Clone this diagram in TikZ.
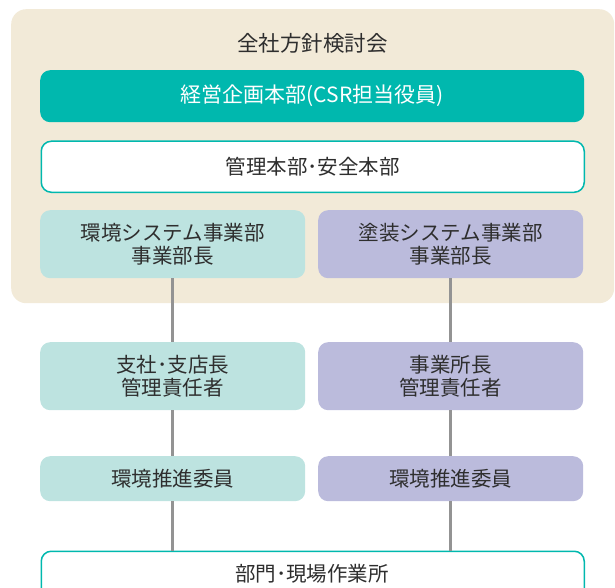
\documentclass[tikz,border=0pt]{standalone}
\usepackage{fontspec}
\setmainfont{Noto Sans CJK JP}
\definecolor{beige}{HTML}{F2EAD8}
\definecolor{teal}{HTML}{00B8AE}
\definecolor{lteal}{HTML}{BDE3E0}
\definecolor{lav}{HTML}{BBBBDC}
\definecolor{txt}{HTML}{2E2E2E}
\definecolor{conn}{HTML}{939393}
\begin{document}
\begin{tikzpicture}[x=1pt,y=-1pt,
  every node/.style={font=\fontsize{20.5}{22.5}\selectfont, text=txt, align=center, inner sep=0pt},
  box/.style={rectangle, rounded corners=10pt, anchor=north west},
  wide/.style={box, minimum width=544pt, minimum height=52pt},
  half/.style={box, minimum width=265pt},
  tealbox/.style={half, fill=lteal},
  lavbox/.style={half, fill=lav},
  conline/.style={draw=conn, line width=3pt}]
\useasboundingbox (0,0) rectangle (615,588);
\node[box, fill=beige, rounded corners=15pt, minimum width=603pt, minimum height=294pt] (bg) at (11,9) {};
\node[font=\fontsize{21.5}{24}\selectfont] (title) at (312.5,43) {全社方針検討会};
\node[wide, fill=teal, text=white, font=\fontsize{21}{24}\selectfont] (top) at (40,70) {経営企画本部(CSR担当役員)};
\node[wide, draw=teal, line width=1.5pt, fill=white, minimum width=543pt, minimum height=51pt] (admin) at (40.5,140.5) {管理本部･安全本部};
\node[tealbox, minimum height=68pt] (l1) at (40,210) {環境システム事業部\\事業部長};
\node[lavbox, minimum height=68pt] (r1) at (318,210) {塗装システム事業部\\事業部長};
\node[tealbox, minimum height=68pt] (l2) at (40,342) {支社･支店長\\管理責任者};
\node[lavbox, minimum height=68pt] (r2) at (318,342) {事業所長\\管理責任者};
\node[tealbox, minimum height=45pt] (l3) at (40,456) {環境推進委員};
\node[lavbox, minimum height=45pt] (r3) at (318,456) {環境推進委員};
\node[wide, draw=teal, line width=1.5pt, fill=white, minimum width=543pt, minimum height=60pt] (bottom) at (40.5,550.5) {};
\node (bottomtext) at (312,574) {部門･現場作業所};
\draw[conline] (l1.south) -- (l2.north);
\draw[conline] (r1.south) -- (r2.north);
\draw[conline] (l2.south) -- (l3.north);
\draw[conline] (r2.south) -- (r3.north);
\draw[conline] (l3.south) -- (l3.south |- bottom.north);
\draw[conline] (r3.south) -- (r3.south |- bottom.north);
\end{tikzpicture}
\end{document}
